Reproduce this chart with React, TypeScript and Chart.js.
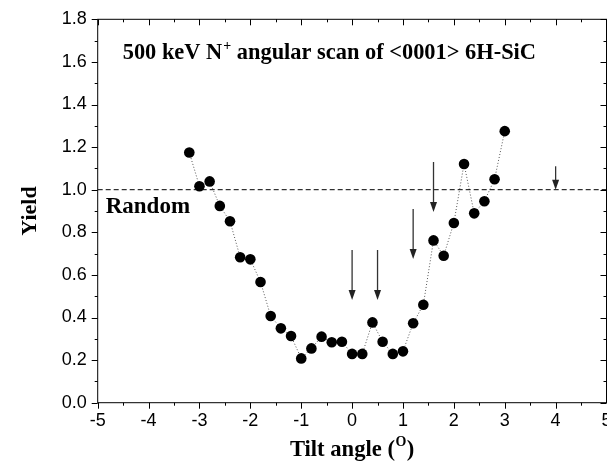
import React, { useEffect, useRef } from "react";
import { Chart, registerables } from "chart.js";

Chart.register(...registerables);

// ---- data ----
const tiltAngles = [-3.2, -3.0, -2.8, -2.6, -2.4, -2.2, -2.0, -1.8, -1.6, -1.4, -1.2, -1.0, -0.8, -0.6, -0.4, -0.2, 0.0, 0.2, 0.4, 0.6, 0.8, 1.0, 1.2, 1.4, 1.6, 1.8, 2.0, 2.2, 2.4, 2.6, 2.8, 3.0];
const yieldValues = [1.175, 1.016, 1.039, 0.924, 0.852, 0.683, 0.673, 0.567, 0.407, 0.349, 0.313, 0.208, 0.255, 0.310, 0.284, 0.286, 0.229, 0.229, 0.377, 0.286, 0.229, 0.241, 0.373, 0.460, 0.762, 0.690, 0.844, 1.121, 0.889, 0.946, 1.049, 1.275];
const randomLevel = 1.0;
const randomLineX = [-5, 5];
const arrowX = [0.0, 0.5, 1.2, 1.6, 4.0];
const arrowTop = [0.717, 0.717, 0.909, 1.13, 1.11];
const arrowTip = [0.482, 0.482, 0.675, 0.895, 1.0];
const xMajorTicks = [-5, -4, -3, -2, -1, 0, 1, 2, 3, 4, 5];
const yMajorTicks = [0.0, 0.2, 0.4, 0.6, 0.8, 1.0, 1.2, 1.4, 1.6, 1.8];
const titleMain = "500 keV N";
const titleSup = "+";
const titleRest = " angular scan of <0001> 6H-SiC";
const randomLabel = "Random";
const yTitle = "Yield";
const xTitleMain = "Tilt angle (";
const xTitleSup = "O";
const xTitleEnd = ")";

const SERIF = "'Liberation Serif', 'Times New Roman', serif";
const SANS = "'Liberation Sans', Arial, sans-serif";

const decorPlugin = {
  id: "decor",
  afterDatasetsDraw(chart: any) {
    const { ctx, chartArea: a, scales } = chart;
    const x = scales.x;
    const y = scales.y;
    ctx.save();
    // frame
    ctx.strokeStyle = "#000";
    ctx.lineWidth = 1;
    ctx.setLineDash([]);
    ctx.strokeRect(a.left, a.top, a.right - a.left, a.bottom - a.top);
    // ticks
    ctx.beginPath();
    for (let i = 0; i < xMajorTicks.length; i++) {
      const v = xMajorTicks[i];
      const px = Math.round(x.getPixelForValue(v)) + 0.5;
      ctx.moveTo(px, a.bottom);
      ctx.lineTo(px, a.bottom + 6);
      ctx.moveTo(px, a.top);
      ctx.lineTo(px, a.top + 6);
      if (i < xMajorTicks.length - 1) {
        const mv = (v + xMajorTicks[i + 1]) / 2;
        const mx = Math.round(x.getPixelForValue(mv)) + 0.5;
        ctx.moveTo(mx, a.bottom);
        ctx.lineTo(mx, a.bottom + 3);
        ctx.moveTo(mx, a.top);
        ctx.lineTo(mx, a.top + 3);
      }
    }
    for (let i = 0; i < yMajorTicks.length; i++) {
      const v = yMajorTicks[i];
      const py = Math.round(y.getPixelForValue(v)) + 0.5;
      ctx.moveTo(a.left, py);
      ctx.lineTo(a.left - 6, py);
      ctx.moveTo(a.right, py);
      ctx.lineTo(a.right - 6, py);
      if (i < yMajorTicks.length - 1) {
        const mv = (v + yMajorTicks[i + 1]) / 2;
        const my = Math.round(y.getPixelForValue(mv)) + 0.5;
        ctx.moveTo(a.left, my);
        ctx.lineTo(a.left - 3, my);
        ctx.moveTo(a.right, my);
        ctx.lineTo(a.right - 3, my);
      }
    }
    ctx.stroke();

    // arrows
    ctx.strokeStyle = "#333";
    ctx.fillStyle = "#222";
    ctx.lineWidth = 1.3;
    for (let i = 0; i < arrowX.length; i++) {
      const px = x.getPixelForValue(arrowX[i]);
      const pt = y.getPixelForValue(arrowTop[i]);
      const pb = y.getPixelForValue(arrowTip[i]);
      ctx.beginPath();
      ctx.moveTo(px, pt);
      ctx.lineTo(px, pb - 9);
      ctx.stroke();
      ctx.beginPath();
      ctx.moveTo(px - 3.5, pb - 10);
      ctx.lineTo(px + 3.5, pb - 10);
      ctx.lineTo(px, pb);
      ctx.closePath();
      ctx.fill();
    }

    // texts
    ctx.fillStyle = "#000";
    ctx.textBaseline = "alphabetic";
    ctx.textAlign = "left";
    const big = `bold 22.4px ${SERIF}`;
    const small = `bold 14px ${SERIF}`;
    // title
    let tx = a.left + 25;
    const ty = a.top + 40;
    ctx.font = big;
    ctx.fillText(titleMain, tx, ty);
    tx += ctx.measureText(titleMain).width;
    ctx.font = small;
    ctx.fillText(titleSup, tx + 1, ty - 9);
    tx += ctx.measureText(titleSup).width + 1;
    ctx.font = big;
    ctx.fillText(titleRest, tx, ty);

    // Random label
    ctx.font = `bold 23px ${SERIF}`;
    ctx.fillText(randomLabel, a.left + 8, y.getPixelForValue(randomLevel) + 23);

    // y title
    ctx.save();
    ctx.translate(36, (a.top + a.bottom) / 2);
    ctx.rotate(-Math.PI / 2);
    ctx.textAlign = "center";
    ctx.font = `bold 22px ${SERIF}`;
    ctx.fillText(yTitle, 0, 0);
    ctx.restore();

    // x title
    const xbig = `bold 22.6px ${SERIF}`;
    ctx.font = xbig;
    const w1 = ctx.measureText(xTitleMain).width;
    const w3 = ctx.measureText(xTitleEnd).width;
    ctx.font = small;
    const w2 = ctx.measureText(xTitleSup).width;
    const total = w1 + w2 + w3 + 1;
    let xx = (a.left + a.right) / 2 - total / 2;
    const xy = 456;
    ctx.font = xbig;
    ctx.fillText(xTitleMain, xx, xy);
    xx += w1;
    ctx.font = small;
    ctx.fillText(xTitleSup, xx + 0.5, xy - 10);
    xx += w2 + 1;
    ctx.font = xbig;
    ctx.fillText(xTitleEnd, xx, xy);

    ctx.restore();
  },
};

export default function App() {
  const ref = useRef<HTMLCanvasElement | null>(null);
  useEffect(() => {
    if (!ref.current) return;
    const chart = new Chart(ref.current, {
      type: "scatter",
      data: {
        datasets: [
          {
            label: "random",
            data: randomLineX.map((v) => ({ x: v, y: randomLevel })),
            showLine: true,
            borderColor: "#000",
            borderWidth: 1,
            borderDash: [5, 3],
            pointRadius: 0,
            fill: false,
          },
          {
            label: "yield",
            data: tiltAngles.map((v, i) => ({ x: v, y: yieldValues[i] })),
            showLine: true,
            borderColor: "#555",
            borderWidth: 1,
            borderDash: [1, 2],
            pointRadius: 5.3,
            pointBackgroundColor: "#000",
            pointBorderColor: "#000",
            pointBorderWidth: 0,
            fill: false,
          },
        ],
      },
      options: {
        responsive: false,
        animation: false,
        events: [],
        layout: { padding: { top: 19.3, right: 7.5, left: 0, bottom: 0 } },
        plugins: { legend: { display: false }, tooltip: { enabled: false }, title: { display: false } },
        scales: {
          x: {
            type: "linear",
            min: -5,
            max: 5,
            grid: { display: false },
            border: { display: false },
            ticks: {
              stepSize: 1,
              padding: 0,
              color: "#000",
              font: { family: SANS, size: 18 },
              maxRotation: 0,
            },
            afterFit: (s: any) => {
              s.height = 63.3;
            },
          },
          y: {
            type: "linear",
            min: 0,
            max: 1.8,
            grid: { display: false },
            border: { display: false },
            ticks: {
              stepSize: 0.2,
              padding: 3,
              color: "#000",
              font: { family: SANS, size: 18 },
              callback: (v: any) => Number(v).toFixed(1),
            },
            afterFit: (s: any) => {
              s.width = 97.7;
            },
          },
        },
      },
      plugins: [decorPlugin],
    } as any);
    return () => chart.destroy();
  }, []);
  return (
    <div style={{ position: "fixed", left: 0, top: 0, width: 607, height: 466, overflow: "hidden", background: "#fff" }}>
      <canvas ref={ref} width={614} height={466} style={{ display: "block" }} />
    </div>
  );
}
